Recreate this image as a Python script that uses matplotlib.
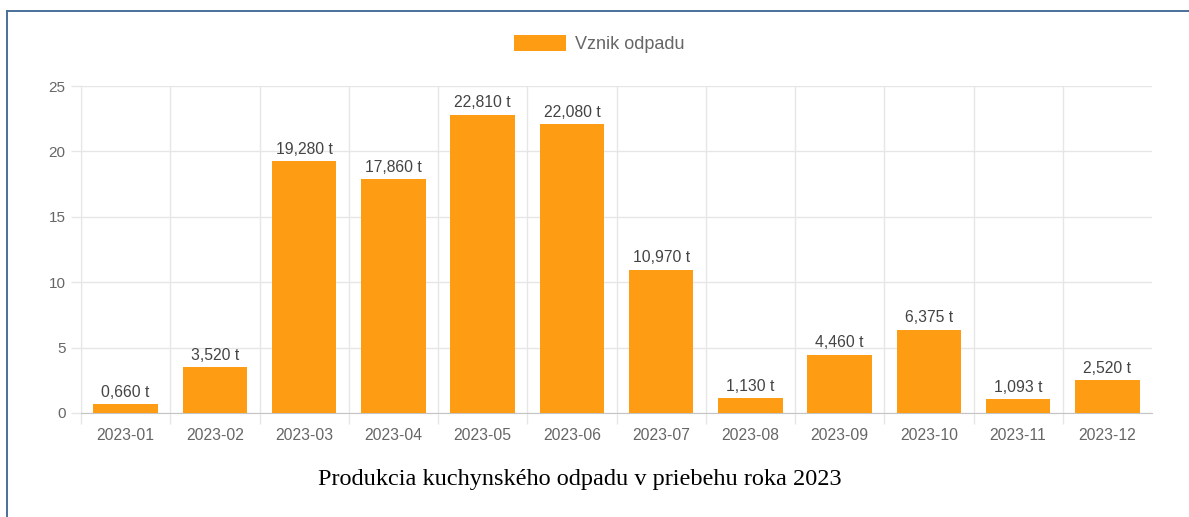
import matplotlib
matplotlib.use("Agg")
import matplotlib.pyplot as plt
from matplotlib.lines import Line2D
from matplotlib.ticker import MultipleLocator, FixedLocator

# data
months = ["2023-01", "2023-02", "2023-03", "2023-04", "2023-05", "2023-06",
          "2023-07", "2023-08", "2023-09", "2023-10", "2023-11", "2023-12"]
waste_t = [0.660, 3.520, 19.280, 17.860, 22.810, 22.080,
           10.970, 1.130, 4.460, 6.375, 1.093, 2.520]
series_name = "Vznik odpadu"
caption = "Produkcia kuchynského odpadu v priebehu roka 2023"

ORANGE = "#fe9d13"
TXT = "#666666"
GRID = "#e6e6e6"

plt.rcParams['font.family'] = ['Liberation Sans', 'DejaVu Sans']

fig = plt.figure(figsize=(11.89, 5.17), dpi=100)
ax = fig.add_axes([81/1189, 1-413/517, (1152-81)/1189, (413-86)/517])

xs = list(range(len(months)))
ax.bar(xs, waste_t, width=0.72, color=ORANGE, label=series_name, zorder=3)

for x, v in zip(xs, waste_t):
    ax.annotate(f"{v:.3f}".replace('.', ',') + " t", (x, v), xytext=(0, 3),
                textcoords='offset points', ha='center', va='bottom',
                fontsize=11.3, color='#444444', zorder=4)

ax.set_xlim(-0.5, len(months) - 0.5)
ax.set_ylim(0, 25)
ax.yaxis.set_major_locator(MultipleLocator(5))
ax.set_xticks(xs)
ax.set_xticklabels(months)
ax.xaxis.set_minor_locator(FixedLocator([i - 0.5 for i in xs]))

ax.tick_params(axis='x', which='major', length=0, pad=11, labelsize=11.3, labelcolor=TXT)
ax.tick_params(axis='x', which='minor', length=8, width=1, color=GRID)
ax.tick_params(axis='y', which='major', length=7, width=1, color=GRID, pad=4,
               labelsize=11, labelcolor=TXT)

ax.grid(axis='y', which='major', color=GRID, lw=1, zorder=0)
ax.grid(axis='x', which='minor', color=GRID, lw=1, zorder=0)
ax.grid(axis='x', which='major', visible=False)

for s in ['top', 'right']:
    ax.spines[s].set_visible(False)
ax.spines['left'].set_color(GRID)
ax.spines['bottom'].set_color('#c4c4c4')

fig.legend(loc='center', bbox_to_anchor=(0.504, 0.915), frameon=False,
           fontsize=13, handlelength=2.88, handleheight=0.95, handletextpad=0.55,
           labelcolor=TXT)

fig.text(580/1189, 1-480/517, caption, ha='center', va='center', fontsize=17.5,
         family=['Liberation Serif', 'DejaVu Serif'], color='black')

# page frame
bx, by = 7/1189, 1-11/517
fig.add_artist(Line2D([bx, bx], [0, by], color='#4a6f98', lw=1.4, transform=fig.transFigure))
fig.add_artist(Line2D([bx, 1], [by, by], color='#4a6f98', lw=1.4, transform=fig.transFigure))

fig.savefig("out.png", dpi=100)
